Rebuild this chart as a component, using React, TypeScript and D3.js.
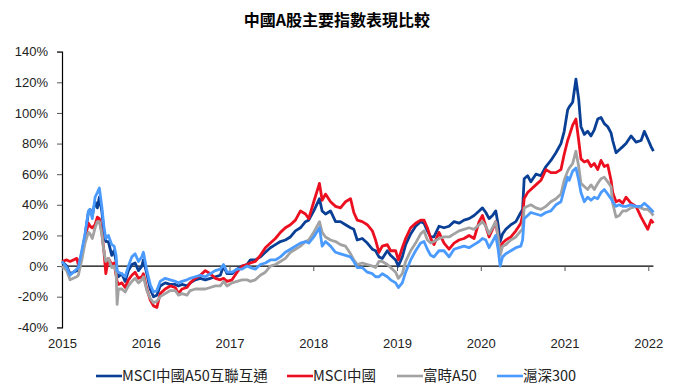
import React, { useEffect, useRef } from "react";
import * as d3 from "d3";

// decimal years
const dates = [
  2015.0, 2015.056, 2015.096, 2015.135, 2015.176, 2015.195, 2015.236, 2015.275, 2015.315, 2015.335,
  2015.362, 2015.395, 2015.422, 2015.446, 2015.475, 2015.502, 2015.523, 2015.554, 2015.594, 2015.622,
  2015.646, 2015.658, 2015.673, 2015.714, 2015.754, 2015.793, 2015.834, 2015.873, 2015.913, 2015.953,
  2015.972, 2016.013, 2016.053, 2016.092, 2016.133, 2016.172, 2016.232, 2016.292, 2016.352, 2016.391,
  2016.432, 2016.492, 2016.531, 2016.591, 2016.651, 2016.711, 2016.77, 2016.83, 2016.89, 2016.929,
  2016.97, 2017.03, 2017.09, 2017.15, 2017.209, 2017.249, 2017.309, 2017.368, 2017.428, 2017.488,
  2017.548, 2017.608, 2017.667, 2017.727, 2017.787, 2017.847, 2017.907, 2017.946, 2018.006, 2018.074,
  2018.106, 2018.146, 2018.206, 2018.266, 2018.325, 2018.385, 2018.445, 2018.484, 2018.525, 2018.585,
  2018.645, 2018.705, 2018.744, 2018.784, 2018.824, 2018.884, 2018.923, 2018.983, 2019.016, 2019.063,
  2019.103, 2019.163, 2019.222, 2019.282, 2019.322, 2019.362, 2019.402, 2019.441, 2019.501, 2019.561,
  2019.621, 2019.681, 2019.74, 2019.8, 2019.86, 2019.92, 2019.98, 2020.02, 2020.06, 2020.099,
  2020.14, 2020.179, 2020.207, 2020.231, 2020.26, 2020.299, 2020.359, 2020.419, 2020.478, 2020.499,
  2020.518, 2020.559, 2020.598, 2020.658, 2020.718, 2020.778, 2020.837, 2020.897, 2020.957, 2020.996,
  2021.037, 2021.056, 2021.097, 2021.136, 2021.169, 2021.196, 2021.236, 2021.276, 2021.316, 2021.355,
  2021.396, 2021.435, 2021.475, 2021.516, 2021.555, 2021.575, 2021.615, 2021.654, 2021.695, 2021.734,
  2021.794, 2021.854, 2021.914, 2021.953, 2021.994, 2022.033, 2022.061,
];

const msciA50Connect = [
  3, 0, -5, -4, -3, -3, 8, 20, 35, 37, 33, 42, 38, 45, 36, 22, 16, 16, 7, 10,
  3, -5, -7, -5, -10, -3, 1, 2, -3, 0, 4, -5, -15, -20, -19, -13, -11, -12, -12, -13,
  -12, -13, -11, -9, -8, -9, -8, -7, -6, 0, -5, -5, -2, 0, 1, 4, 4, 6, 9, 12,
  14, 16, 17, 19, 23, 25, 29, 30, 36, 44, 36, 34, 36, 29, 29, 27, 25, 24, 17, 18,
  15, 11, 10, 6, 5, 10, 7, 4, 0, 6, 14, 21, 26, 29, 28, 23, 19, 19, 26, 25,
  26, 29, 28, 30, 31, 33, 36, 38, 35, 31, 33, 36, 27, 16, 21, 24, 27, 29, 35, 37,
  57, 59, 55, 60, 59, 65, 69, 74, 80, 88, 102, 104, 107, 122, 109, 91, 86, 88, 85, 89,
  96, 97, 93, 91, 87, 82, 74, 76, 78, 80, 85, 81, 82, 88, 83, 78, 75,
];

const msciChina = [
  3, 4, 3, 4, 5, 1, 8, 18, 28, 26, 25, 27, 32, 31, 22, 9, -5, 5, 1, 2,
  -6, -10, -12, -11, -14, -9, -6, -4, -8, -7, -5, -15, -22, -26, -27, -18, -15, -13, -14, -18,
  -15, -14, -11, -8, -6, -3, -5, -8, -9, -8, -10, -9, -4, 0, 1, 2, 3, 7, 12, 15,
  18, 22, 25, 27, 30, 36, 34, 31, 42, 54, 43, 47, 42, 39, 38, 42, 44, 35, 30, 29,
  27, 23, 17, 9, 13, 14, 10, 10, 4, 12, 18, 25, 28, 30, 30, 25, 18, 14, 22, 15,
  11, 15, 17, 18, 20, 18, 29, 33, 26, 19, 24, 29, 18, 11, 15, 17, 19, 23, 28, 33,
  44, 48, 50, 53, 56, 63, 61, 61, 63, 73, 82, 85, 92, 96, 82, 70, 68, 69, 65, 67,
  63, 69, 65, 66, 56, 48, 42, 43, 41, 45, 41, 39, 32, 28, 24, 30, 28,
];

const ftseA50 = [
  0, -3, -9, -8, -7, -6, 4, 15, 22, 21, 18, 25, 29, 29, 21, 9, 3, 5, -1, 0,
  -4, -25, -15, -15, -17, -13, -10, -8, -11, -9, -7, -16, -21, -24, -23, -20, -18, -16, -16, -19,
  -18, -19, -16, -15, -15, -15, -14, -13, -13, -10, -13, -11, -10, -9, -9, -10, -9, -6, -4, 0,
  1, 3, 5, 9, 11, 13, 16, 17, 22, 29, 22, 19, 17, 16, 14, 13, 8, 4, 1, 2,
  1, 0, -1, 3, 3, 1, -1, -4, -8, -5, 3, 10, 15, 21, 23, 17, 15, 16, 18, 19,
  19, 21, 23, 24, 25, 24, 27, 29, 26, 21, 25, 29, 19, 7, 13, 14, 17, 19, 23, 24,
  38, 39, 40, 38, 37, 39, 42, 44, 47, 56, 62, 64, 67, 75, 65, 54, 52, 50, 53, 50,
  54, 57, 58, 55, 52, 41, 32, 33, 36, 36, 38, 39, 38, 37, 37, 35, 33,
];

const csi300 = [
  3, -1, -6, -4, -2, -1, 10, 21, 36, 37, 31, 45, 48, 51, 39, 25, 18, 20, 14, 13,
  7, -3, -4, -5, -7, 0, 6, 8, 3, 6, 9, -3, -12, -17, -16, -10, -8, -9, -10, -11,
  -10, -9, -8, -7, -6, -7, -5, -3, -2, 1, -4, -4, -2, -2, 0, -1, -2, 1, 2, 4,
  4, 6, 9, 11, 13, 15, 16, 15, 19, 25, 13, 16, 13, 9, 8, 7, 6, 3, -1, -1,
  -4, -5, -7, -7, -5, -7, -9, -11, -14, -11, -4, 4, 10, 15, 16, 11, 7, 6, 10, 10,
  6, 11, 12, 13, 12, 14, 16, 18, 17, 12, 16, 20, 11, 0, 6, 8, 10, 12, 13, 17,
  31, 33, 35, 34, 33, 35, 36, 40, 42, 50, 58, 56, 62, 64, 56, 48, 42, 45, 43, 45,
  44, 48, 50, 47, 44, 42, 39, 40, 39, 39, 40, 39, 39, 41, 39, 37, 35,
];

const seriesNames = ["MSCI中國A50互聯互通", "MSCI中國", "富時A50", "滬深300"];
const seriesColors = ["#0a3f96", "#ec0f1f", "#a2a2a2", "#4b9bff"];
const yTicks = [-40, -20, 0, 20, 40, 60, 80, 100, 120, 140];
const xTicks = [2015, 2016, 2017, 2018, 2019, 2020, 2021, 2022];

export default function App() {
  const svgRef = useRef<SVGSVGElement>(null);

  useEffect(() => {
    const width = 675;
    const height = 389;
    const margin = { top: 51.7, right: 27, bottom: 61.7, left: 62 };
    const values = [msciA50Connect, msciChina, ftseA50, csi300];

    const root = d3.select(svgRef.current);
    root.selectAll("*").remove();
    root.attr("width", width).attr("height", height);

    const x = d3.scaleLinear()
      .domain([2015, 2022])
      .range([margin.left, 648.3]);

    const y = d3.scaleLinear()
      .domain([-40, 140])
      .range([height - margin.bottom, margin.top]);

    // Title
    root.append("text")
      .attr("x", 337)
      .attr("y", 26)
      .attr("text-anchor", "middle")
      .style("font-family", "'Noto Sans CJK TC', sans-serif")
      .style("font-size", "16px")
      .style("font-weight", "bold")
      .text("中國A股主要指數表現比較");

    // Y axis
    const yAxis = root.append("g")
      .attr("transform", `translate(${margin.left},0)`)
      .call(d3.axisLeft(y).tickValues(yTicks).tickSize(5).tickFormat(d => `${d}%`));
    yAxis.select(".domain").attr("stroke", "#000").attr("stroke-width", 1.2);
    yAxis.selectAll(".tick line").attr("stroke", "#555");
    yAxis.selectAll("text")
      .attr("x", -14)
      .style("font-family", "'Liberation Sans', sans-serif")
      .style("font-size", "13px")
      .attr("fill", "#222");

    // X axis on the zero line
    const xAxis = root.append("g")
      .attr("transform", `translate(0,${y(0)})`)
      .call(d3.axisBottom(x).tickValues(xTicks).tickSize(5).tickSizeOuter(0).tickFormat(d3.format("d")));
    xAxis.select(".domain")
      .attr("d", `M${margin.left},0H${x(dates[dates.length - 1])}`)
      .attr("stroke", "#000")
      .attr("stroke-width", 1.2);
    xAxis.selectAll(".tick line").attr("stroke", "#555");
    xAxis.selectAll("text")
      .attr("y", 0)
      .attr("dy", 0)
      .attr("transform", `translate(0,${348 - y(0)})`)
      .style("font-family", "'Liberation Sans', sans-serif")
      .style("font-size", "13px")
      .attr("fill", "#222");

    // Lines
    const line = d3.line<number>()
      .x((_, i) => x(dates[i]))
      .y(d => y(d));

    values.forEach((vals, i) => {
      root.append("path")
        .datum(vals)
        .attr("fill", "none")
        .attr("stroke", seriesColors[i])
        .attr("stroke-width", 2.8)
        .attr("stroke-linejoin", "round")
        .attr("d", line);
    });

    // Legend
    const legendX = [96, 287, 397, 497];
    const legend = root.append("g").attr("transform", "translate(0,376)");
    seriesNames.forEach((name, i) => {
      const g = legend.append("g").attr("transform", `translate(${legendX[i]},0)`);
      g.append("line")
        .attr("x1", 0).attr("x2", 26)
        .attr("y1", 0).attr("y2", 0)
        .attr("stroke", seriesColors[i])
        .attr("stroke-width", 2.6);
      g.append("text")
        .attr("x", 26)
        .attr("y", 5)
        .style("font-family", "'Noto Sans CJK TC', sans-serif")
        .style("font-size", "14.5px")
        .attr("fill", "#222")
        .text(name);
    });
  }, []);

  return (
    <div style={{ position: "absolute", left: 0, top: 0 }}>
      <svg ref={svgRef}></svg>
    </div>
  );
}
